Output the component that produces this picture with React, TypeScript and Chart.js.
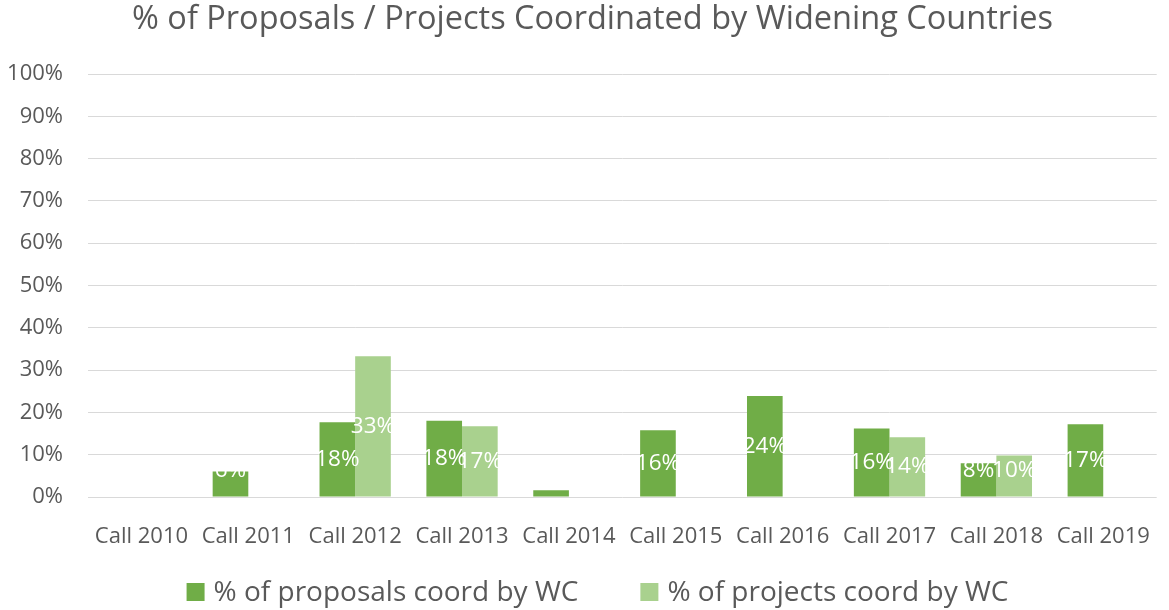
import React, { useEffect, useRef } from "react";
import { Chart, registerables } from "chart.js";

Chart.register(...registerables);

const categories = ["Call 2010", "Call 2011", "Call 2012", "Call 2013", "Call 2014", "Call 2015", "Call 2016", "Call 2017", "Call 2018", "Call 2019"];
const proposalsPct = [0, 6.0, 17.7, 18.0, 1.6, 15.8, 23.9, 16.2, 8.0, 17.2];
const projectsPct = [0, 0, 33.3, 16.7, 0, 0, 0, 14.1, 9.8, 0];
const yTicks = [0, 10, 20, 30, 40, 50, 60, 70, 80, 90, 100];
const titleText = "% of Proposals / Projects Coordinated by Widening Countries";

const FONT = "'Open Sans', Lato, sans-serif";
const GREY = "#595959";

const labelPlugin = {
  id: "barLabels",
  afterDatasetsDraw(chart: any) {
    const ctx = chart.ctx;
    ctx.save();
    ctx.fillStyle = "#FFFFFF";
    ctx.font = `22.5px ${FONT}`;
    ctx.textAlign = "center";
    ctx.textBaseline = "middle";
    chart.data.datasets.forEach((ds: any, di: number) => {
      const meta = chart.getDatasetMeta(di);
      meta.data.forEach((el: any, i: number) => {
        const v = ds.data[i];
        if (!v || v < 3) return;
        const base = el.base;
        const cy = Math.min((el.y + base) / 2, base - 26);
        ctx.fillText(Math.round(v) + "%", el.x, cy);
      });
    });
    ctx.restore();
  },
};

const titlePlugin = {
  id: "customTitle",
  afterDraw(chart: any) {
    const ctx = chart.ctx;
    ctx.save();
    ctx.font = `32.5px ${FONT}`;
    ctx.fillStyle = GREY;
    ctx.textAlign = "center";
    ctx.textBaseline = "middle";
    ctx.fillText(titleText, chart.width / 2 + 8, 20);
    ctx.restore();
  },
};

const legendPlugin = {
  id: "customLegend",
  afterDraw(chart: any) {
    const ctx = chart.ctx;
    ctx.save();
    ctx.font = `28px ${FONT}`;
    ctx.textBaseline = "middle";
    ctx.textAlign = "left";
    const box = 18, gapBoxText = 9, gapItems = 62;
    const items = chart.data.datasets.map((ds: any) => ({
      text: ds.label,
      color: ds.backgroundColor,
      w: ctx.measureText(ds.label).width,
    }));
    const total = items.reduce((s: number, it: any) => s + box + gapBoxText + it.w, 0) + gapItems * (items.length - 1);
    const cy = 592;
    let x = chart.width / 2 + 13 - total / 2;
    items.forEach((it: any) => {
      ctx.fillStyle = it.color;
      ctx.fillRect(x, cy - box / 2, box, box);
      x += box + gapBoxText;
      ctx.fillStyle = GREY;
      ctx.fillText(it.text, x, cy + 1);
      x += it.w + gapItems;
    });
    ctx.restore();
  },
};

export default function App() {
  const ref = useRef<HTMLCanvasElement>(null);
  useEffect(() => {
    document.body.style.margin = "0";
    const chart = new Chart(ref.current!, {
      type: "bar",
      data: {
        labels: categories,
        datasets: [
          { label: "% of proposals coord by WC", data: proposalsPct, backgroundColor: "#70AD47", categoryPercentage: 0.667, barPercentage: 1 },
          { label: "% of projects coord by WC", data: projectsPct, backgroundColor: "#A9D18E", categoryPercentage: 0.667, barPercentage: 1 },
        ],
      },
      options: {
        animation: false,
        responsive: false,
        maintainAspectRatio: false,
        layout: { padding: { left: 4, right: 3, top: 74, bottom: 66 } },
        plugins: {
          title: { display: false },
          legend: { display: false },
          tooltip: { enabled: false },
        },
        scales: {
          x: {
            grid: { display: false },
            border: { display: false },
            ticks: { color: GREY, font: { family: FONT, size: 22 }, padding: 19, maxRotation: 0 },
            afterFit: (axis: any) => {
              axis.height = 47;
            },
          },
          y: {
            min: 0,
            max: 100,
            afterBuildTicks: (axis: any) => {
              axis.ticks = yTicks.map((v) => ({ value: v }));
            },
            afterFit: (axis: any) => {
              axis.width = 84;
            },
            grid: { color: "#D9D9D9", lineWidth: 1, drawTicks: false },
            border: { display: false },
            ticks: { color: GREY, font: { family: FONT, size: 22 }, padding: 25, callback: (v: any) => v + "%" },
          },
        },
      },
      plugins: [labelPlugin, titlePlugin, legendPlugin],
    });
    return () => chart.destroy();
  }, []);
  return (
    <div style={{ width: 1169, height: 610 }}>
      <canvas ref={ref} width={1169} height={610} style={{ display: "block" }} />
    </div>
  );
}
